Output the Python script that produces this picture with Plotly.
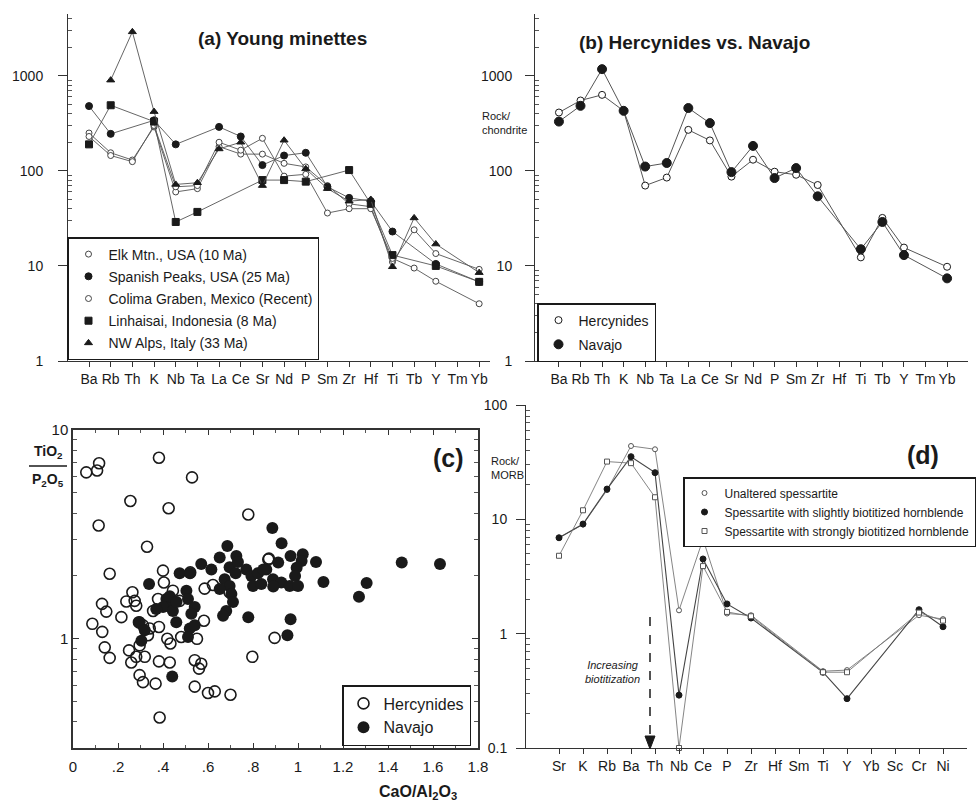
import math
import plotly.graph_objects as go

W, H = 977, 805
def px(x): return x / W
def py(y): return 1 - y / H

FONT = "Liberation Sans, Arial, sans-serif"
INK = "#1a1a1a"
GREY = "#555555"

# ---------------- data ----------------
elements_ab = ["Ba", "Rb", "Th", "K", "Nb", "Ta", "La", "Ce", "Sr", "Nd", "P", "Sm",
               "Zr", "Hf", "Ti", "Tb", "Y", "Tm", "Yb"]

elk_mtn = [250, 155, 130, 290, 60, 65, 180, 150, 150, 120, 110, 70, 45, 42, 11, 24, 13.5, None, 9.2]
spanish_peaks = [480, 245, None, 340, 190, None, 290, 230, 115, 145, 155, 68, 52, 48, 23, None, 10.5, None, 6.8]
colima = [230, 145, 125, 300, 68, 70, 200, 165, 220, 88, 92, 36, 40, 40, 12, 9.5, 6.9, None, 4.0]
linhaisai = [190, 490, None, 330, 29, 37, None, None, 80, 80, 77, None, 102, 45, 13, None, 10, None, 6.8]
nw_alps = [None, 900, 2900, 420, 72, 75, 170, 200, 70, 210, 105, 65, 48, 50, 9.8, 32, 17, None, 8.5]

hercynides_b = [411, 550, 630, 428, 70, 85, 270, 209, 87, 131, 98, 91, 71, None, 12.3, 32, 15.6, None, 9.8]
navajo_b = [330, 483, 1175, 428, 111, 121, 458, 318, 97, 183, 84, 107, 54, None, 15, 29, 13, None, 7.4]

herc_x = [0.059, 0.107, 0.116, 0.382, 0.529, 0.255, 0.425, 0.779, 0.114, 0.329, 0.163, 0.40, 0.521,
          0.871, 0.404, 0.585, 0.622, 0.696, 0.264, 0.237, 0.281, 0.129, 0.148, 0.215, 0.086, 0.130,
          0.141, 0.163, 0.249, 0.259, 0.281, 0.319, 0.296, 0.311, 0.367, 0.382, 0.382, 0.43, 0.419,
          0.433, 0.481, 0.551, 0.582, 0.541, 0.570, 0.56, 0.541, 0.60, 0.63, 0.70, 0.797, 0.896,
          0.385, 0.333, 0.311, 0.356, 0.378, 0.444, 0.474, 0.43, 0.274, 0.293, 0.341, 0.296, 0.868]
herc_y = [6.27, 6.40, 6.93, 7.36, 5.93, 4.57, 4.22, 3.94, 3.49, 2.76, 2.05, 2.12, 2.08,
          2.42, 1.86, 1.74, 1.81, 1.67, 1.67, 1.51, 1.44, 1.47, 1.35, 1.27, 1.18, 1.08,
          0.91, 0.81, 0.88, 0.77, 0.82, 0.82, 0.67, 0.62, 0.61, 1.14, 0.78, 0.77, 1.0,
          0.95, 1.02, 1.0, 1.22, 0.79, 0.76, 0.72, 0.59, 0.55, 0.56, 0.54, 0.82, 1.01,
          0.42, 1.04, 1.16, 1.36, 1.55, 1.70, 1.52, 1.5, 1.52, 1.2, 1.12, 0.93, 2.4]

nav_x = [0.886, 0.927, 0.967, 0.686, 0.726, 0.652, 0.570, 0.615, 0.474, 0.696, 0.723, 0.770, 0.793,
         0.822, 0.859, 0.889, 0.926, 0.963, 0.80, 0.837, 0.674, 0.696, 0.652, 0.704, 0.711, 0.681,
         0.667, 0.338, 0.504, 0.511, 0.541, 0.526, 0.519, 0.511, 0.541, 0.415, 0.437, 0.40, 0.444,
         0.459, 0.37, 0.296, 0.319, 0.304, 0.441, 0.779, 0.953, 0.967, 0.733, 1.021, 1.016, 1.08,
         1.113, 0.994, 0.987, 1.0, 0.89, 0.912, 0.846, 1.305, 1.271, 1.461, 1.631, 0.52, 0.43, 0.46]
nav_y = [3.39, 2.87, 2.49, 2.78, 2.49, 2.45, 2.28, 2.15, 2.06, 2.2, 2.06, 2.15, 2.0,
         2.06, 2.15, 1.93, 1.86, 1.79, 1.79, 1.83, 1.93, 1.79, 1.73, 1.64, 1.50, 1.36,
         1.29, 1.83, 1.70, 1.55, 1.42, 1.32, 1.12, 1.02, 1.16, 1.55, 1.47, 1.42, 1.36,
         1.2, 1.39, 1.2, 1.1, 0.98, 0.66, 1.27, 1.04, 1.24, 2.33, 2.54, 2.36, 2.33,
         1.87, 2.19, 2.0, 1.79, 1.78, 2.32, 2.15, 1.85, 1.59, 2.32, 2.28, 2.06, 1.6, 1.5]

elements_d = ["Sr", "K", "Rb", "Ba", "Th", "Nb", "Ce", "P", "Zr", "Hf", "Sm", "Ti", "Y", "Yb", "Sc", "Cr", "Ni"]
unaltered = [6.9, 9.0, 18, 43.8, 41, 1.6, 6.7, 1.5, 1.45, None, None, 0.47, 0.48, None, None, 1.45, 1.34]
slightly = [6.9, 9.1, 18.4, 35.3, 25.6, 0.29, 4.5, 1.82, 1.37, None, None, 0.46, 0.27, None, None, 1.62, 1.15]
strongly = [4.8, 12, 32, 31, 15.6, 0.1, 3.9, 1.55, 1.42, None, None, 0.46, 0.46, None, None, 1.53, 1.3]

tick_c_vals = [0, 0.2, 0.4, 0.6, 0.8, 1.0, 1.2, 1.4, 1.6, 1.8]
tick_c_text = ["0", ".2", ".4", ".6", ".8", "1", "1.2", "1.4", "1.6", "1.8"]

# ---------------- figure ----------------
fig = go.Figure()

def spider(x, y, name, symbol, size, fill, xa, ya, lg, group, lw=0.9, color=GREY, edge=INK):
    mk = dict(symbol=symbol, size=size, color=fill, line=dict(color=edge, width=1))
    fig.add_trace(go.Scatter(x=x, y=y, mode="lines+markers", connectgaps=True,
                             line=dict(color=color, width=lw), marker=mk, showlegend=False,
                             xaxis=xa, yaxis=ya, cliponaxis=False, hoverinfo="skip"))
    # legend entry (symbol only, as in the original legend boxes)
    fig.add_trace(go.Scatter(x=[None], y=[None], mode="markers", name=name, marker=mk,
                             xaxis=xa, yaxis=ya, legend=lg, legendgroup=group, showlegend=True))

# (a)
spider(elements_ab, elk_mtn, "Elk Mtn., USA (10 Ma)", "circle", 6, "white", "x", "y", "legend", "a1", edge="#444")
spider(elements_ab, spanish_peaks, "Spanish Peaks, USA (25 Ma)", "circle", 7, INK, "x", "y", "legend", "a2")
spider(elements_ab, colima, "Colima Graben, Mexico (Recent)", "circle", 6, "white", "x", "y", "legend", "a3", edge="#444")
spider(elements_ab, linhaisai, "Linhaisai, Indonesia (8 Ma)", "square", 7, INK, "x", "y", "legend", "a4")
spider(elements_ab, nw_alps, "NW Alps, Italy (33 Ma)", "triangle-up", 7, INK, "x", "y", "legend", "a5")

# (b)
spider(elements_ab, hercynides_b, "Hercynides", "circle", 7, "white", "x2", "y2", "legend2", "b1", lw=1.0)
spider(elements_ab, navajo_b, "Navajo", "circle", 9, INK, "x2", "y2", "legend2", "b2", lw=1.0)

# (c)
fig.add_trace(go.Scatter(x=herc_x, y=herc_y, mode="markers", name="Hercynides",
                         marker=dict(symbol="circle", size=11, color="rgba(255,255,255,0)",
                                     line=dict(width=1.6, color=INK)),
                         xaxis="x3", yaxis="y3", legend="legend3", legendgroup="c1"))
fig.add_trace(go.Scatter(x=nav_x, y=nav_y, mode="markers", name="Navajo",
                         marker=dict(symbol="circle", size=12, color=INK, line=dict(width=0)),
                         xaxis="x3", yaxis="y3", legend="legend3", legendgroup="c2"))

# (d)
spider(elements_d, unaltered, "Unaltered spessartite", "circle", 5, "white", "x4", "y4", "legend4", "d1",
       lw=0.9, color="#777", edge="#555")
spider(elements_d, slightly, "Spessartite with slightly biotitized hornblende", "circle", 6, INK, "x4", "y4",
       "legend4", "d2", lw=1.1, color="#444")
spider(elements_d, strongly, "Spessartite with strongly biotitized hornblende", "square", 5, "white", "x4", "y4",
       "legend4", "d3", lw=0.9, color="#777", edge="#555")

# ---------------- axes ----------------
def minor_log(lo_exp, hi_exp, top=None):
    vals = []
    for e in range(lo_exp, hi_exp):
        for m in range(2, 10):
            v = m * 10 ** e
            if top is None or v <= top:
                vals.append(v)
    return vals

axis_common = dict(showgrid=False, zeroline=False, showline=True, linecolor="#333", linewidth=1,
                   tickcolor="#333", tickfont=dict(family=FONT, size=14, color=INK))

cat_x = dict(axis_common, type="category", ticks="outside", ticklen=5,
             tickfont=dict(family=FONT, size=14, color=INK))

fig.update_layout(
    xaxis=dict(cat_x, domain=[px(68), px(490)], anchor="y", range=[-0.97, 18.5],
               categoryorder="array", categoryarray=elements_ab),
    yaxis=dict(axis_common, domain=[py(361), py(14)], anchor="x", type="log", range=[0, 3.65],
               tickvals=[1, 10, 100, 1000], ticktext=["1", "10", "100", "1000"],
               ticks="outside", ticklen=9, ticklabelstandoff=12,
               minor=dict(tickvals=minor_log(0, 4, 4000), ticks="inside", ticklen=4, tickcolor="#555")),
    xaxis2=dict(cat_x, domain=[px(535), px(968)], anchor="y2", range=[-1.11, 18.97],
                categoryorder="array", categoryarray=elements_ab),
    yaxis2=dict(axis_common, domain=[py(361), py(14)], anchor="x2", type="log", range=[0, 3.65],
                tickvals=[1, 10, 100, 1000], ticktext=["1", "10", "100", "1000"],
                ticks="outside", ticklen=9, ticklabelstandoff=10,
                minor=dict(tickvals=minor_log(0, 4, 4000), ticks="inside", ticklen=4, tickcolor="#555")),
    xaxis3=dict(axis_common, domain=[px(73), px(478)], anchor="y3", range=[0, 1.8],
                tickvals=tick_c_vals, ticktext=tick_c_text, ticks="inside", ticklen=5,
                mirror="ticks", linewidth=1.5, ticklabelstandoff=4,
                tickfont=dict(family=FONT, size=15, color=INK),
                minor=dict(dtick=0.1, ticks="inside", ticklen=3, tickcolor="#555")),
    yaxis3=dict(axis_common, domain=[py(748), py(430)], anchor="x3", type="log",
                range=[math.log10(0.3), 1], tickvals=[1, 10], ticktext=["1", "10"],
                ticks="inside", ticklen=6, mirror="ticks", linewidth=1.5,
                tickfont=dict(family=FONT, size=15, color=INK),
                minor=dict(tickvals=[0.4, 0.5, 0.6, 0.7, 0.8, 0.9] + [2, 3, 4, 5, 6, 7, 8, 9],
                           ticks="inside", ticklen=4, tickcolor="#555")),
    xaxis4=dict(cat_x, domain=[px(526), px(967)], anchor="y4", range=[-1.375, 17],
                categoryorder="array", categoryarray=elements_d),
    yaxis4=dict(axis_common, domain=[py(748), py(405)], anchor="x4", type="log", range=[-1, 2],
                tickvals=[0.1, 1, 10, 100], ticktext=["0.1", "1", "10", "100"],
                ticks="outside", ticklen=9, ticklabelstandoff=6,
                minor=dict(tickvals=minor_log(-1, 2), ticks="inside", ticklen=4, tickcolor="#555")),
)

leg_common = dict(bgcolor="white", bordercolor=INK, borderwidth=1.5, xanchor="left", yanchor="top",
                  itemclick=False, itemdoubleclick=False)
fig.update_layout(
    legend=dict(leg_common, x=px(67), y=py(237), font=dict(family=FONT, size=14, color=INK),
                tracegroupgap=1),
    legend2=dict(leg_common, x=px(537), y=py(303), font=dict(family=FONT, size=14, color=INK),
                 tracegroupgap=3),
    legend3=dict(leg_common, x=px(342), y=py(685), font=dict(family=FONT, size=16, color=INK),
                 tracegroupgap=0, borderwidth=1.5),
    legend4=dict(leg_common, x=px(683), y=py(477), font=dict(family=FONT, size=12, color=INK),
                 tracegroupgap=0),
)

# ---------------- annotations ----------------
def note(x, y, text, size, bold=False, italic=False, xanchor="center", yanchor="middle", align="center"):
    t = text
    if bold:
        t = "<b>" + t + "</b>"
    if italic:
        t = "<i>" + t + "</i>"
    fig.add_annotation(x=px(x), y=py(y), xref="paper", yref="paper", text=t, showarrow=False,
                       font=dict(family=FONT, size=size, color=INK), xanchor=xanchor,
                       yanchor=yanchor, align=align)

note(282, 38, "(a) Young minettes", 19, bold=True)
note(694, 42, "(b) Hercynides vs. Navajo", 19, bold=True)
note(480, 123, "Rock/<br>chondrite", 11, xanchor="left", align="left")
note(448, 458, "(c)", 25, bold=True)
note(48, 452, "TiO<sub>2</sub>", 14, bold=True)
note(48, 480, "P<sub>2</sub>O<sub>5</sub>", 14, bold=True)
note(418, 792, "CaO/Al<sub>2</sub>O<sub>3</sub>", 16, bold=True)
note(489, 468, "Rock/<br>MORB", 11, xanchor="left", align="left")
note(923, 455, "(d)", 25, bold=True)
note(612, 672, "Increasing<br>biotitization", 11, italic=True)

# fraction bar for TiO2 / P2O5
fig.add_shape(type="line", xref="paper", yref="paper", x0=px(29), x1=px(67), y0=py(466), y1=py(466),
              line=dict(color=INK, width=1.5))
# dashed arrow in (d)
fig.add_shape(type="line", xref="paper", yref="paper", x0=px(650), x1=px(650), y0=py(617), y1=py(738),
              line=dict(color=INK, width=1.5, dash="dash"))
fig.add_shape(type="path", xref="paper", yref="paper",
              path=f"M {px(645)},{py(736)} L {px(655)},{py(736)} L {px(650)},{py(749)} Z",
              fillcolor=INK, line=dict(color=INK, width=1))

fig.update_layout(width=W, height=H, margin=dict(l=0, r=0, t=0, b=0, autoexpand=False),
                  paper_bgcolor="white", plot_bgcolor="white", font=dict(family=FONT, size=12, color=INK))

fig.write_html("out.html")
